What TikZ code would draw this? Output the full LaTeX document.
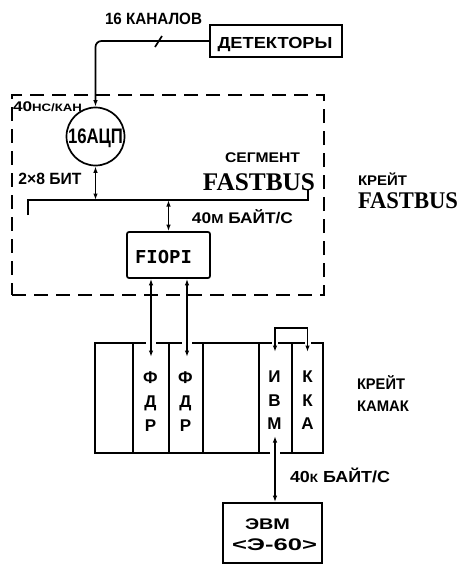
\documentclass[tikz,border=0pt]{standalone}
\usepackage{fontspec}
\setmainfont{Liberation Sans}
\newfontfamily\serifb{Liberation Serif}
\newfontfamily\monob{DejaVu Sans Mono}
\usetikzlibrary{arrows.meta}
\newcommand\lbl[3]{\resizebox{#1pt}{\height}{\fontsize{#2pt}{#2pt}\selectfont\bfseries #3}}
\newcommand\slbl[3]{\resizebox{#1pt}{\height}{\fontsize{#2pt}{#2pt}\selectfont\serifb\bfseries #3}}
\newcommand\mlbl[3]{\resizebox{#1pt}{\height}{\fontsize{#2pt}{#2pt}\selectfont\monob\bfseries #3}}
\newcommand\smallsz[2]{{\fontsize{#1pt}{#1pt}\selectfont #2}}
\begin{document}
\begin{tikzpicture}[x=1pt,y=-1pt,line width=1.7pt,
  >={Latex[length=6.5pt,width=4.5pt]},
  txt/.style={inner sep=0pt,anchor=base},
  letter/.style={inner sep=0pt,anchor=base,font=\fontsize{17pt}{17pt}\selectfont\bfseries},
  box/.style={draw,inner sep=0pt}]
\useasboundingbox (0,0) rectangle (473,565);

% detectors
\node[box,minimum width=132pt,minimum height=32pt] (det) at (276,41) {};
\node[txt] (detl) at (275,48.2) {\lbl{115}{16}{ДЕТЕКТОРЫ}};
\node[txt] (chan) at (153.5,24.9) {\lbl{97}{16.3}{16 КАНАЛОВ}};

% segment
\node[draw,line width=1.5pt,dash pattern=on 14pt off 8pt,minimum width=312pt,minimum height=200pt,inner sep=0pt] (seg) at (168,195) {};
\node[txt] (ns) at (47.5,111.7) {\lbl{69}{14}{40\smallsz{10.7}{НС/КАН}}};
\node[draw,circle,minimum size=58pt,inner sep=0pt] (adc) at (95.5,136.5) {};
\node[txt] (adcl) at (95.5,143.3) {\lbl{55}{21}{16АЦП}};
\node[txt] (bits) at (50,184.9) {\lbl{63}{16.3}{2×8 БИТ}};
\node[txt] (segl) at (262.5,162) {\lbl{75}{14}{СЕГМЕНТ}};
\node[txt] (fbl) at (259,190) {\slbl{112}{25.4}{FASTBUS}};
\node[txt] (rate1) at (242.5,223) {\lbl{101}{15.4}{40\smallsz{13}{М} БАЙТ/С}};
\node[box,rounded corners=2pt,minimum width=83pt,minimum height=46pt] (fiopi) at (168.5,255) {};
\node[txt] (fiopil) at (163.5,263) {\mlbl{57}{17.8}{FIOPI}};

% right labels
\node[txt] (kr1) at (382.5,185) {\lbl{49}{14}{КРЕЙТ}};
\node[txt] (fbr) at (408,208) {\slbl{100}{23.9}{FASTBUS}};
\node[txt] (kr2) at (381,389) {\lbl{48}{15.4}{КРЕЙТ}};
\node[txt] (kamak) at (383,411) {\lbl{52}{15.4}{КАМАК}};

% bus
\coordinate (bl) at (28,215);
\coordinate (b1) at (28,200);
\coordinate (b2) at (308,200);
\coordinate (br) at (308,190);
\draw (bl) -- (b1) -- (b2) -- (br);

% connectors in segment
\draw[->,rounded corners=6pt] (det.west) -| (adc.north);
\draw (155,47) -- (162,36);
\draw[<->] (adc.south) -- (adc.south |- b1);
\draw[<->] (fiopi.north |- b1) -- (fiopi.north);

% crate CAMAC
\foreach \x in {133,169,203,259,292} \draw (\x,343) -- (\x,453);
\draw (270,453) -| (95,343) -- (146,343);
\draw (280,453) -| (323,343) -- (311,343);
\draw (156,343) -- (182,343);
\draw (192,343) -- (272,343);
\draw (278,343) -- (304.5,343);

% module letters
\node[letter] (f1a) at (150.5,383) {Ф};
\node[letter] (f1b) at (150.5,407.5) {Д};
\node[letter] (f1c) at (150.5,431.5) {Р};
\node[letter] (f2a) at (185.5,383) {Ф};
\node[letter] (f2b) at (185.5,407.5) {Д};
\node[letter] (f2c) at (185.5,431.5) {Р};
\node[letter] (ia) at (274.5,382.5) {И};
\node[letter] (ib) at (274.5,406) {В};
\node[letter] (ic) at (274.5,429) {М};
\node[letter] (ka) at (307.5,382.5) {К};
\node[letter] (kb) at (307.5,406) {К};
\node[letter] (kc) at (307.5,429) {А};

% FIOPI to FDR
\coordinate (a1) at (151,357);
\coordinate (a2) at (187,357);
\draw[<->] (fiopi.south -| a1) -- (a1);
\draw[<->] (fiopi.south -| a2) -- (a2);

% IVM - KA bracket
\coordinate (c1) at (275,352);
\coordinate (c2) at (307.5,352);
\coordinate (ctop) at (291,328);
\draw[<->] (c1) |- (ctop) -| (c2);

% computer
\node[box,minimum width=99pt,minimum height=60pt] (evm) at (272.5,533) {};
\node[txt] (evm1) at (267.5,529) {\lbl{45}{15.4}{ЭВМ}};
\node[txt] (evm2) at (274.5,550) {\lbl{85}{16.8}{<Э-60>}};
\coordinate (c3) at (275,436);
\draw[<->] (c3) -- (c3 |- evm.north);
\node[txt] (rate2) at (340,482.5) {\lbl{100}{16}{40\smallsz{12}{К} БАЙТ/С}};
\end{tikzpicture}
\end{document}
